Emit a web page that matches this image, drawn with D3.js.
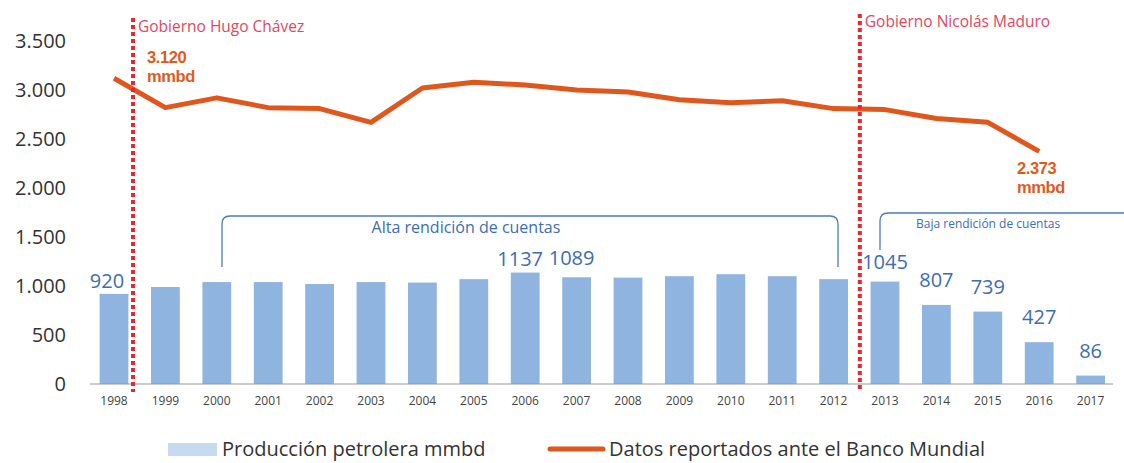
<!DOCTYPE html>
<html>
<head>
<meta charset="utf-8">
<script src="https://cdn.jsdelivr.net/npm/d3@7"></script>
<title>Producción petrolera Venezuela</title>
<style>
  body { margin: 0; background: #fff; }
  svg { display: block; font-family: 'Open Sans', sans-serif; }
  .tick-y { font-size: 20px; fill: #333; }
  .tick-x { font-size: 12px; fill: #444; }
  .val { font-size: 20px; fill: #3d6db5; }
  .gov { font-size: 15.5px; fill: #e2475f; }
  .mmbd { font-family: 'Liberation Sans', Arial, sans-serif; font-weight: bold; font-size: 16.5px; fill: #e05a1e; letter-spacing: -0.4px; }
  .legend { font-size: 20px; fill: #333; }
</style>
</head>
<body>
<div id="chart"></div>
<script>
const years = ["1998","1999","2000","2001","2002","2003","2004","2005","2006","2007",
               "2008","2009","2010","2011","2012","2013","2014","2015","2016","2017"];
// producción petrolera (bars), mmbd in thousands
const production = [920, 990, 1040, 1040, 1020, 1040, 1035, 1070, 1137, 1089,
                    1085, 1100, 1120, 1100, 1070, 1045, 807, 739, 427, 86];
// datos reportados ante el Banco Mundial (line)
const reported = [3120, 2820, 2920, 2820, 2810, 2670, 3020, 3080, 3050, 3000,
                  2980, 2900, 2870, 2890, 2810, 2800, 2710, 2670, 2373];
// which bars carry a value label
const labelled = ["1998", "2006", "2007", "2013", "2014", "2015", "2016", "2017"];
const yTicks = [0, 500, 1000, 1500, 2000, 2500, 3000, 3500];

const w = 1124, h = 463;

const svg = d3.select("#chart").append("svg")
    .attr("width", w)
    .attr("height", h);

const x = d3.scaleBand()
    .domain(years)
    .range([88.3, 1116.3])
    .paddingInner(0.44)
    .paddingOuter(0.22);

const y = d3.scaleLinear()
    .domain([0, 3500])
    .range([384, 41]);

const cx = d => x(d) + x.bandwidth() / 2;

// y axis labels
svg.append("g")
  .selectAll("text")
  .data(yTicks)
  .enter().append("text")
    .attr("class", "tick-y")
    .attr("x", 66)
    .attr("y", d => y(d))
    .attr("dy", "0.36em")
    .attr("text-anchor", "end")
    .text(d => d3.format(",")(d).replace(",", "."));

// bars
svg.append("g")
  .selectAll("rect")
  .data(years)
  .enter().append("rect")
    .attr("x", d => x(d))
    .attr("y", (d, i) => y(production[i]))
    .attr("width", x.bandwidth())
    .attr("height", (d, i) => y(0) - y(production[i]))
    .attr("fill", "#8fb4df");

// baseline
svg.append("line")
    .attr("x1", 90).attr("x2", 1113)
    .attr("y1", y(0)).attr("y2", y(0))
    .attr("stroke", "#999")
    .attr("stroke-width", 1);

// year labels
svg.append("g")
  .selectAll("text")
  .data(years)
  .enter().append("text")
    .attr("class", "tick-x")
    .attr("x", d => cx(d))
    .attr("y", 405)
    .attr("text-anchor", "middle")
    .text(d => d);

// value labels (lift above bar top, as placed in the original)
const lift = { "1998": 6, "2006": 7, "2007": 12, "2013": 13 };
svg.append("g")
  .selectAll("text")
  .data(years.map((d, i) => [d, production[i]]).filter(d => labelled.includes(d[0])))
  .enter().append("text")
    .attr("class", "val")
    .attr("x", d => cx(d[0]) - (d[0] === "1998" ? 7 : (d[0] === "2006" || d[0] === "2007") ? 5 : 0))
    .attr("y", d => y(d[1]) - (lift[d[0]] !== undefined ? lift[d[0]] : 18))
    .attr("text-anchor", "middle")
    .text(d => d[1]);

// reported line
const line = d3.line()
    .x(d => cx(d[0]))
    .y(d => y(d[1]));

svg.append("path")
    .datum(reported.map((v, i) => [years[i], v]))
    .attr("d", line)
    .attr("fill", "none")
    .attr("stroke", "#e0571d")
    .attr("stroke-width", 5)
    .attr("stroke-linejoin", "round");

// government change markers
const govs = [
  { year: "1998", off: 0.37, label: "Gobierno Hugo Chávez", top: 18, ty: 32 },
  { year: "2012", off: 0.51, label: "Gobierno Nicolás Maduro", top: 14, ty: 27 }
];
govs.forEach(g => {
  const gx = cx(g.year) + x.step() * g.off;
  svg.append("line")
      .attr("x1", gx).attr("x2", gx)
      .attr("y1", g.top).attr("y2", 392)
      .attr("stroke", "#eb2530")
      .attr("stroke-width", 4)
      .attr("stroke-dasharray", "4,3");
  svg.append("text")
      .attr("class", "gov")
      .attr("x", gx + 5)
      .attr("y", g.ty)
      .text(g.label);
});

// first / last value notes
const notes = [
  { x: 147, y: 63, t: "3.120" }, { x: 147, y: 82, t: "mmbd" },
  { x: 1017, y: 174, t: "2.373" }, { x: 1017, y: 193, t: "mmbd" }
];
svg.append("g")
  .selectAll("text")
  .data(notes)
  .enter().append("text")
    .attr("class", "mmbd")
    .attr("x", d => d.x)
    .attr("y", d => d.y)
    .text(d => d.t);

// brackets
const bracketColor = "#4a7cbd";
svg.append("path")
    .attr("d", "M222,267 L222,224 Q222,216 230,216 L830,216 Q838,216 838,224 L838,267")
    .attr("fill", "none")
    .attr("stroke", bracketColor)
    .attr("stroke-width", 1.3);
svg.append("text")
    .attr("x", 466).attr("y", 233)
    .attr("text-anchor", "middle")
    .attr("font-size", 16)
    .attr("fill", "#3d6db5")
    .text("Alta rendición de cuentas");

svg.append("path")
    .attr("d", "M880,250 L880,221 Q880,213 888,213 L1124,213")
    .attr("fill", "none")
    .attr("stroke", bracketColor)
    .attr("stroke-width", 1.3);
svg.append("text")
    .attr("x", 916).attr("y", 228)
    .attr("font-size", 12)
    .attr("fill", "#3d6db5")
    .text("Baja rendición de cuentas");

// legend
svg.append("rect")
    .attr("x", 168).attr("y", 443)
    .attr("width", 49).attr("height", 13)
    .attr("fill", "#c6daf1");
svg.append("text")
    .attr("class", "legend")
    .attr("x", 222).attr("y", 456)
    .text("Producción petrolera mmbd");
svg.append("line")
    .attr("x1", 550).attr("x2", 603)
    .attr("y1", 449).attr("y2", 449)
    .attr("stroke", "#e0571d")
    .attr("stroke-width", 5)
    .attr("stroke-linecap", "round");
svg.append("text")
    .attr("class", "legend")
    .attr("x", 609).attr("y", 456)
    .text("Datos reportados ante el Banco Mundial");
</script>
</body>
</html>
